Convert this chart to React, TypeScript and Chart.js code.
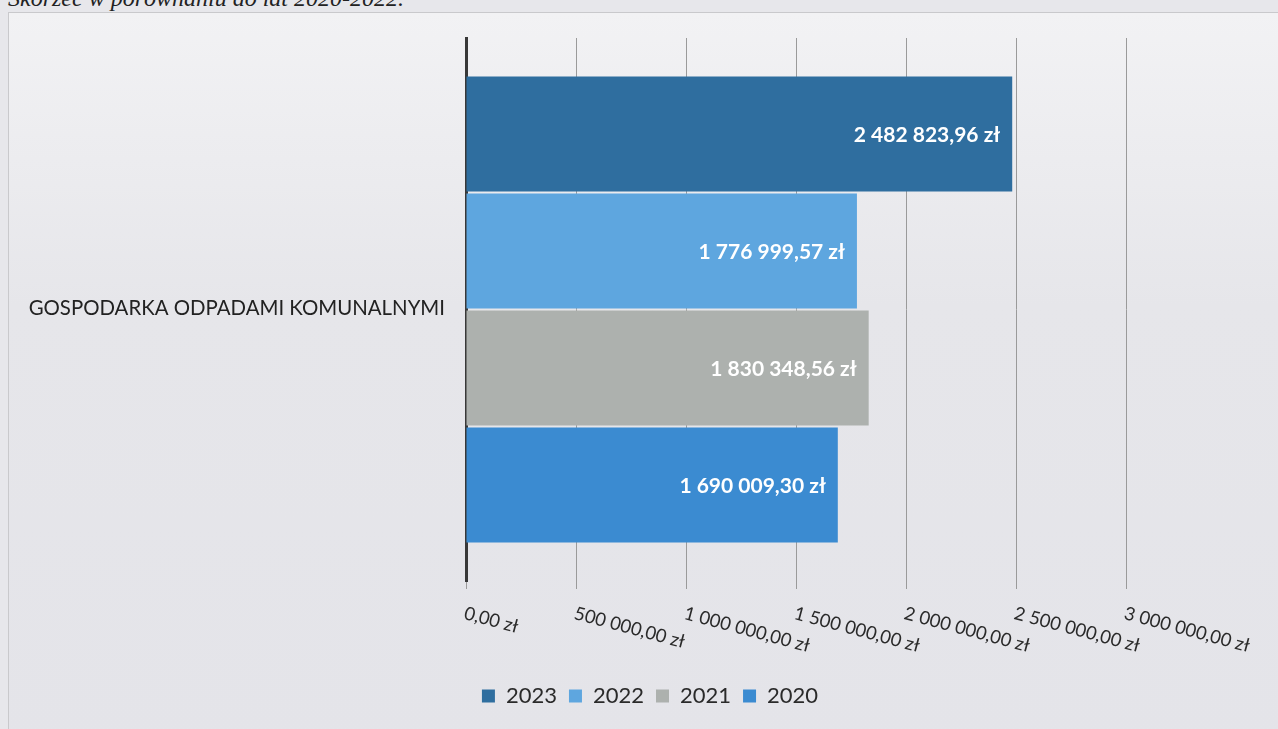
import React, { useEffect, useRef } from "react";
import { Chart, registerables } from "chart.js";

Chart.register(...registerables);

const categories = ["GOSPODARKA ODPADAMI KOMUNALNYMI"];
const years = ["2023", "2022", "2021", "2020"];
const values2023 = [2482823.96];
const values2022 = [1776999.57];
const values2021 = [1830348.56];
const values2020 = [1690009.3];
const seriesValues = [values2023, values2022, values2021, values2020];
const seriesColors = ["#2f6e9f", "#5ea6df", "#adb1ae", "#3b8bd1"];
const xMin = 0;
const xMax = 3000000;
const xStep = 500000;

function fmtPLN(v: number): string {
  const [i, d] = v.toFixed(2).split(".");
  const withSp = i.replace(/\B(?=(\d{3})+(?!\d))/g, " ");
  return withSp + "," + d + " zł";
}

const FONT = "Lato, 'Open Sans', sans-serif";

const axisLabels = {
  id: "axisLabels",
  afterDraw(chart: any) {
    const ctx = chart.ctx;
    const xs = chart.scales.x;
    const ys = chart.scales.y;
    ctx.save();
    ctx.fillStyle = "#2a2a2a";
    ctx.font = `18.5px ${FONT}`;
    ctx.textAlign = "left";
    ctx.textBaseline = "top";
    xs.ticks.forEach((t: any) => {
      const px = xs.getPixelForValue(t.value);
      ctx.save();
      ctx.translate(px + 1, xs.top + 23);
      ctx.rotate((15 * Math.PI) / 180);
      ctx.fillText(fmtPLN(t.value), 0, 0);
      ctx.restore();
    });
    ctx.fillStyle = "#222";
    ctx.font = `20.4px ${FONT}`;
    ctx.textAlign = "right";
    ctx.textBaseline = "middle";
    chart.data.labels.forEach((lab: string, i: number) => {
      ctx.fillText(lab, ys.right - 21, ys.getPixelForTick(i) - 1);
    });
    ctx.restore();
  },
};

const barValueLabels = {
  id: "barValueLabels",
  afterDatasetsDraw(chart: any) {
    const ctx = chart.ctx;
    ctx.save();
    ctx.fillStyle = "#ffffff";
    ctx.font = `bold 21px ${FONT}`;
    ctx.textAlign = "right";
    ctx.textBaseline = "middle";
    chart.data.datasets.forEach((ds: any, di: number) => {
      const meta = chart.getDatasetMeta(di);
      meta.data.forEach((el: any, i: number) => {
        ctx.fillText(fmtPLN(ds.data[i]), el.x - 12, el.y + 1);
      });
    });
    ctx.restore();
  },
};

export default function App() {
  const ref = useRef<HTMLCanvasElement>(null);
  useEffect(() => {
    document.body.style.margin = "0";
    const chart = new Chart(ref.current!, {
      type: "bar",
      data: {
        labels: categories,
        datasets: years.map((y, k) => ({
          label: y,
          data: seriesValues[k],
          backgroundColor: seriesColors[k],
          borderWidth: 0,
          categoryPercentage: 0.862,
          barPercentage: 0.983,
        })),
      },
      options: {
        indexAxis: "y",
        responsive: false,
        animation: false,
        layout: { padding: { top: 38, left: 174, right: 152, bottom: 12 } },
        scales: {
          x: {
            min: xMin,
            max: xMax,
            ticks: { stepSize: xStep, display: false },
            grid: { color: "#9a9a9a", lineWidth: 1, drawTicks: true, tickLength: 8, tickColor: "#9a9a9a" },
            border: { display: false },
            afterFit: (s: any) => {
              s.height = 92;
            },
          },
          y: {
            ticks: { display: false },
            grid: { display: false, drawTicks: false },
            border: { display: true, color: "#383838", width: 3 },
            afterFit: (s: any) => {
              s.width = 292;
            },
          },
        },
        plugins: {
          legend: {
            position: "bottom",
            labels: {
              color: "#2a2a2a",
              font: { family: FONT, size: 22 },
              boxWidth: 13,
              boxHeight: 13,
              padding: 12,
            },
          },
          tooltip: { enabled: false },
        },
      },
      plugins: [axisLabels, barValueLabels],
    });
    return () => chart.destroy();
  }, []);

  return (
    <div
      style={{
        position: "relative",
        width: 1278,
        height: 729,
        background: "#e7e7eb",
        overflow: "hidden",
      }}
    >
      <div
        style={{
          position: "absolute",
          top: -15,
          left: 8,
          fontFamily: "'Liberation Serif', serif",
          fontStyle: "italic",
          fontSize: 24,
          color: "#222",
          whiteSpace: "nowrap",
        }}
      >
        Skorzec w porównaniu do lat 2020-2022.
      </div>
      <div
        style={{
          position: "absolute",
          top: 12,
          left: 8,
          width: 1280,
          height: 730,
          borderTop: "1px solid #c9c9cc",
          borderLeft: "1px solid #c9c9cc",
          background: "linear-gradient(#f2f2f4, #e6e6ea 40%, #e4e4e9)",
        }}
      />
      <canvas
        ref={ref}
        width={1278}
        height={729}
        style={{ position: "absolute", left: 0, top: 0 }}
      />
    </div>
  );
}
